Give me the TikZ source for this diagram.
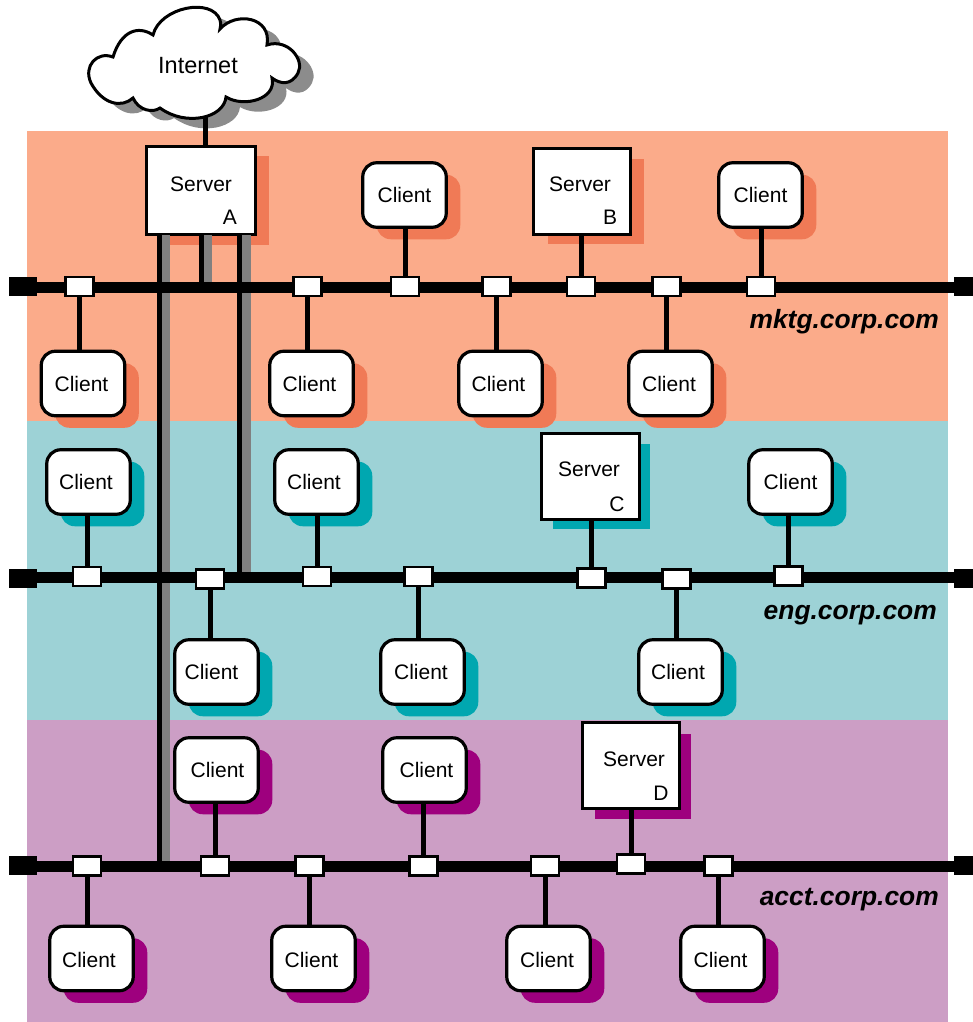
\documentclass[tikz,border=0pt]{standalone}
\usepackage{fontspec}
\setmainfont{Liberation Sans}
\usetikzlibrary{shadows}
\definecolor{mkbg}{HTML}{FBAB8A}\definecolor{mksh}{HTML}{F07A56}
\definecolor{enbg}{HTML}{9DD2D6}\definecolor{ensh}{HTML}{00A7B0}
\definecolor{acbg}{HTML}{CC9EC5}\definecolor{acsh}{HTML}{9E007E}
\definecolor{trunk}{HTML}{808080}\definecolor{cloudsh}{HTML}{8C8C8C}
\tikzset{
 bandfill/.style={fill=#1,draw=none},
 client/.style={draw=black,fill=white,line width=3.2pt,rounded corners=14pt,minimum width=83.5pt,minimum height=64.5pt,inner sep=0pt,
   font=\fontsize{21}{25}\selectfont,text height=15pt,text depth=0pt,
   drop shadow={shadow xshift=14pt,shadow yshift=-12pt,fill=#1,opacity=1}},
 tx/.style={execute at begin node={\hspace*{#1pt}}},
 server/.style n args={3}{draw=black,fill=white,line width=3pt,inner sep=0pt,
   drop shadow={shadow xshift=#2pt,shadow yshift=-#3pt,fill=#1,opacity=1}},
 stext/.style={font=\fontsize{21}{25}\selectfont,inner sep=0pt},
 tap/.style={draw=black,fill=white,line width=2.6pt,minimum width=28pt,minimum height=19pt,inner sep=0pt},
 buscap/.style={fill=black,draw=none,minimum height=19pt,inner sep=0pt},
 busline/.style={line width=11.5pt,black},
 droplink/.style={line width=5pt,black},
 trunkb/.style={line width=5.5pt,black},
 trunkg/.style={line width=9pt,trunk},
 domainlabel/.style={font=\fontsize{26.4}{30}\selectfont\bfseries\itshape,inner sep=0pt,anchor=east},
}
\newcommand{\cloudpath}{
 (113,57) .. controls (121,31) and (138,25) .. (153,35)
 .. controls (160,7) and (212,-3) .. (220,20) .. controls (221,24) and (221,26) .. (220,29)
 .. controls (236,11) and (272,17) .. (267,45)
 .. controls (288,38) and (305,60) .. (298,73) .. controls (291,86) and (280,84) .. (272,78)
 .. controls (277,99) and (244,108) .. (226,97)
 .. controls (224,118) and (186,127) .. (160,108)
 .. controls (153,113) and (139,111) .. (133,98)
 .. controls (122,108) and (103,105) .. (91,83)
 .. controls (83,66) and (97,51) .. (113,57) -- cycle}
\begin{document}
\begin{tikzpicture}[x=1pt,y=-1pt]
\useasboundingbox (0,0) rectangle (973,1022);
\fill[bandfill=mkbg] (27,131) rectangle (948,421);
\fill[bandfill=enbg] (27,421) rectangle (948,720);
\fill[bandfill=acbg] (27,720) rectangle (948,1022);
% cloud
\fill[cloudsh,shift={(14pt,-10pt)}] \cloudpath;
\filldraw[fill=white,draw=black,line width=3pt] \cloudpath;
\node[font=\fontsize{23.5}{28}\selectfont,inner sep=0pt] (internet) at (198,66) {Internet};
\coordinate (cloudfoot) at (205.5,117);
% servers
\node[server={mksh}{14}{10},minimum width=108.5pt,minimum height=88.5pt] (sa) at (201,190.5) {};
\node[server={mksh}{14}{10},minimum width=96.5pt,minimum height=85.5pt] (sb) at (582,191.5) {};
\node[server={ensh}{11}{10},minimum width=97.5pt,minimum height=85.5pt] (sc) at (590.5,476.5) {};
\node[server={acsh}{12}{11},minimum width=96.5pt,minimum height=85.5pt] (sd) at (631,765.5) {};
\node[stext] (sat) at (201,184) {Server}; \node[stext] (sal) at (230,217) {A};
\node[stext] (sbt) at (580,184) {Server}; \node[stext] (sbl) at (610,217) {B};
\node[stext] (sct) at (589,469) {Server}; \node[stext] (scl) at (617,504) {C};
\node[stext] (sdt) at (634,759) {Server}; \node[stext] (sdl) at (661,793) {D};
% clients mktg
\node[client=mksh,tx=-3] (m1) at (83,383.5) {Client};
\node[client=mksh,tx=-4] (m2) at (311.5,383.5) {Client};
\node[client=mksh,tx=0] (m3) at (404.5,195) {Client};
\node[client=mksh,tx=-4] (m4) at (500.5,383.5) {Client};
\node[client=mksh,tx=-3] (m5) at (670.5,383.5) {Client};
\node[client=mksh,tx=0] (m6) at (760.5,195) {Client};
% clients eng
\node[client=ensh,tx=-5] (e1) at (88.5,482) {Client};
\node[client=ensh,tx=-5] (e2) at (316.5,482) {Client};
\node[client=ensh,tx=0] (e3) at (790.5,482) {Client};
\node[client=ensh,tx=-10] (e4) at (216.5,672) {Client};
\node[client=ensh,tx=-3] (e5) at (422.5,672) {Client};
\node[client=ensh,tx=-5] (e6) at (680.5,672) {Client};
% clients acct
\node[client=acsh,tx=2] (a1) at (216.5,770) {Client};
\node[client=acsh,tx=4] (a2) at (424.5,770) {Client};
\node[client=acsh,tx=-5,text height=17.5pt] (a3) at (91.5,958.5) {Client};
\node[client=acsh,tx=-4,text height=17.5pt] (a4) at (313.5,958.5) {Client};
\node[client=acsh,tx=-3,text height=17.5pt] (a5) at (548.5,958.5) {Client};
\node[client=acsh,tx=-4,text height=17.5pt] (a6) at (722.5,958.5) {Client};
% bus caps
\node[buscap,minimum width=28pt] (ml) at (23,286.5) {};
\node[buscap,minimum width=19pt] (mr) at (963.5,286.5) {};
\node[buscap,minimum width=28pt] (el) at (23,578) {};
\node[buscap,minimum width=19pt] (er) at (963.5,578) {};
\node[buscap,minimum width=28pt] (al) at (23,865.5) {};
\node[buscap,minimum width=19pt] (ar) at (963.5,865.5) {};
% trunk lines
\coordinate (t1g) at (165.5,235); \coordinate (t2g) at (207.5,235); \coordinate (t3g) at (246,235);
\coordinate (t1b) at (159.7,235); \coordinate (t2b) at (201.5,235); \coordinate (t3b) at (239.5,235);
\draw[trunkg] (t1g) -- (t1g |- al);
\draw[trunkg] (t2g) -- (t2g |- ml);
\draw[trunkg] (t3g) -- (t3g |- el);
\draw[trunkb] (t1b) -- (t1b |- al);
\draw[trunkb] (t2b) -- (t2b |- ml);
\draw[trunkb] (t3b) -- (t3b |- el);
% cloud link
\draw[line width=5pt,black] (cloudfoot) -- (cloudfoot |- sa.north);
% buses
\draw[busline] (ml.center) ++(0,1) -- (963,287.5);
\draw[busline] (el.center) ++(0,-0.5) -- (963,577.5);
\draw[busline] (al.center) ++(0,1) -- (963,866.5);
% taps mktg
\node[tap] (tm1) at (79.5,286.5) {}; \node[tap] (tm2) at (307.5,286.5) {};
\node[tap] (tm3) at (405,286.5) {}; \node[tap] (tm4) at (496.5,286.5) {};
\node[tap] (tm5) at (581,286.5) {}; \node[tap] (tm6) at (666.5,286.5) {};
\node[tap] (tm7) at (761,286.5) {};
% taps eng
\node[tap] (te1) at (87,576.5) {}; \node[tap] (te2) at (210,579) {};
\node[tap] (te3) at (317,576.5) {}; \node[tap] (te4) at (418.5,576.5) {};
\node[tap] (te5) at (591.5,578) {}; \node[tap] (te6) at (676.5,579) {};
\node[tap] (te7) at (788.5,576) {};
% taps acct
\node[tap] (ta1) at (87,866) {}; \node[tap] (ta2) at (215,866) {};
\node[tap] (ta3) at (309.5,866) {}; \node[tap] (ta4) at (423.5,866) {};
\node[tap] (ta5) at (545,866) {}; \node[tap] (ta6) at (631,864) {};
\node[tap] (ta7) at (718.5,866) {};
% drops
\foreach \t/\c/\ts/\cs in {tm1/m1/south/north,tm2/m2/south/north,tm3/m3/north/south,tm4/m4/south/north,tm5/sb/north/south,tm6/m5/south/north,tm7/m6/north/south,
 te1/e1/north/south,te2/e4/south/north,te3/e2/north/south,te4/e5/south/north,te5/sc/north/south,te6/e6/south/north,te7/e3/north/south,
 ta1/a3/south/north,ta2/a1/north/south,ta3/a4/south/north,ta4/a2/north/south,ta5/a5/south/north,ta6/sd/north/south,ta7/a6/south/north}
 \draw[droplink] (\t.\ts) -- (\t.\ts |- \c.\cs);
% domain labels
\node[domainlabel] (dm) at (939,322) {mktg.corp.com};
\node[domainlabel] (de) at (937,615) {eng.corp.com};
\node[domainlabel] (da) at (939,899.5) {acct.corp.com};
\end{tikzpicture}
\end{document}
